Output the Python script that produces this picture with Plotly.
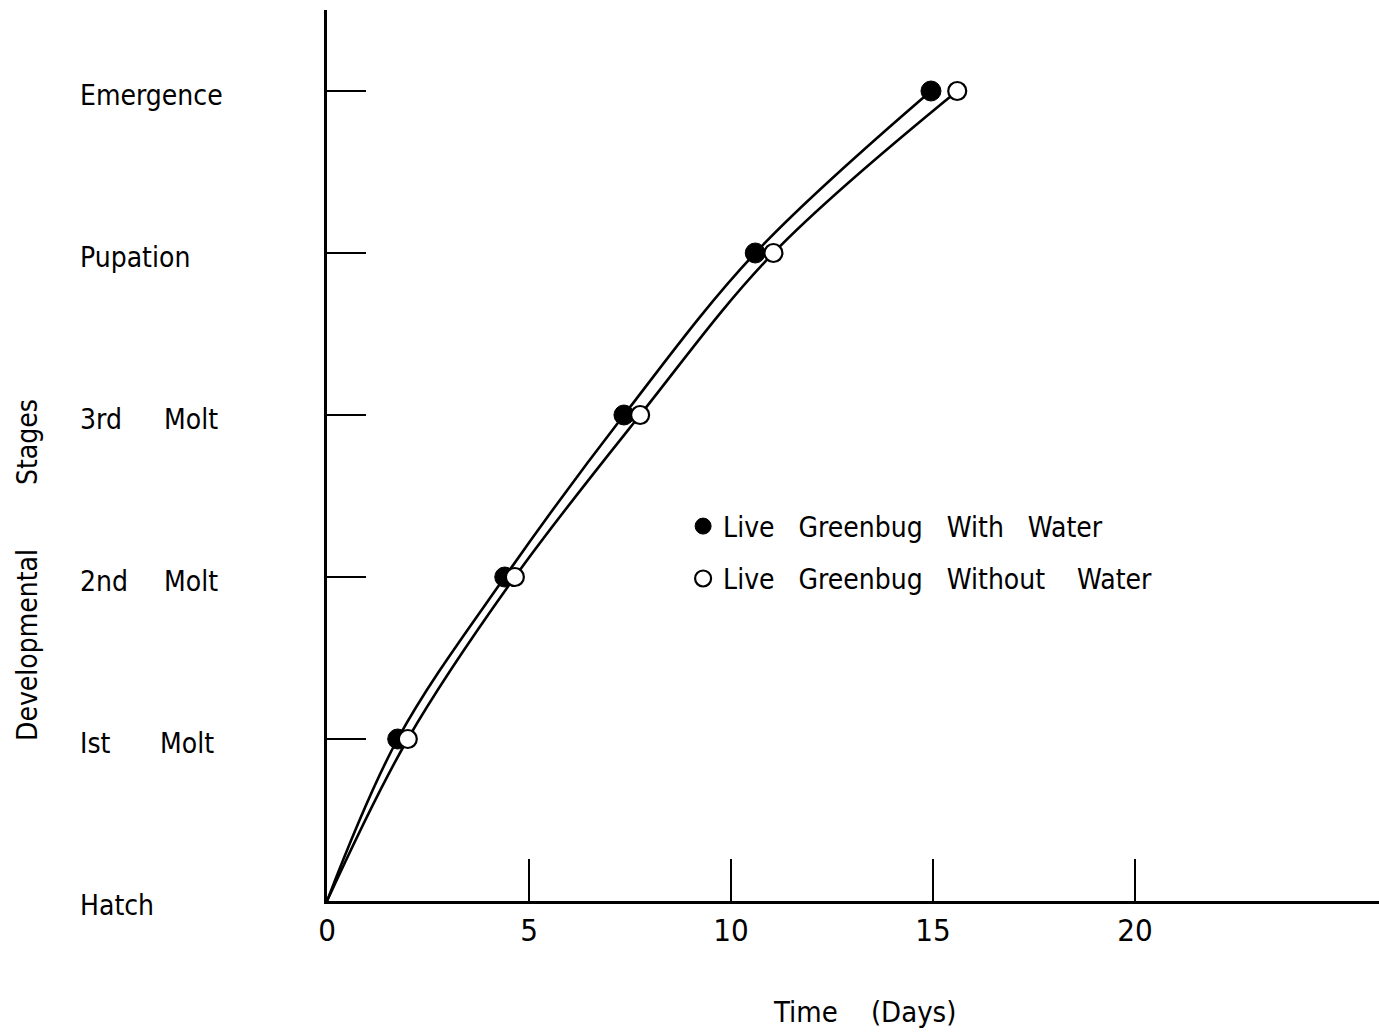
import plotly.graph_objects as go

# Developmental stages (index 0 = hatch) and the days at which each was reached
stage_labels = ["Hatch", "Ist Molt", "2nd Molt", "3rd Molt", "Pupation", "Emergence"]
stage_idx = [1, 2, 3, 4, 5]
days_with_water = [1.75, 4.4, 7.35, 10.6, 14.95]
days_without_water = [2.0, 4.65, 7.75, 11.05, 15.6]
x_ticks = [0, 5, 10, 15, 20]

FONT = "DejaVu Sans Condensed, Liberation Sans Narrow, Arial Narrow, sans-serif"
NB = "\u00a0"

fig = go.Figure()

# smooth growth curves starting at hatch (day 0)
for days in (days_with_water, days_without_water):
    fig.add_trace(go.Scatter(
        x=[0] + days, y=[0] + stage_idx, mode="lines",
        line=dict(color="black", width=2.6, shape="spline", smoothing=1.0),
        showlegend=False, hoverinfo="skip"))

fig.add_trace(go.Scatter(
    x=days_with_water, y=stage_idx, mode="markers",
    name=f"Live{NB*3}Greenbug{NB*3}With{NB*3}Water", legendgroup="a",
    marker=dict(symbol="circle", size=20, color="black",
                line=dict(color="black", width=1))))
fig.add_trace(go.Scatter(
    x=days_without_water, y=stage_idx, mode="markers",
    name=f"Live{NB*3}Greenbug{NB*3}Without{NB*4}Water", legendgroup="b",
    marker=dict(symbol="circle", size=18, color="white",
                line=dict(color="black", width=2.2))))

annotations = []
# stage labels on the left, words set in two columns
for i, lab in enumerate(stage_labels):
    parts = lab.split(" ")
    annotations.append(dict(x=-0.237, xref="paper", y=i, yref="y", text=parts[0],
                            showarrow=False, xanchor="left", yanchor="middle",
                            yshift=-4, font=dict(family=FONT, size=28, color="black")))
    if len(parts) > 1:
        x2 = -0.1565 if i > 1 else -0.1605
        annotations.append(dict(x=x2, xref="paper", y=i, yref="y", text=parts[1],
                                showarrow=False, xanchor="left", yanchor="middle",
                                yshift=-4, font=dict(family=FONT, size=28, color="black")))

annotations.append(dict(x=-0.2842, xref="paper", y=0.3715, yref="paper",
                        text=f"Developmental{NB*8}Stages", textangle=-90,
                        showarrow=False, xanchor="center", yanchor="middle",
                        font=dict(family=FONT, size=28, color="black")))
annotations.append(dict(x=0.511, xref="paper", y=-0.1246, yref="paper",
                        text=f"Time{NB*4}(Days)",
                        showarrow=False, xanchor="center", yanchor="middle",
                        font=dict(family=FONT, size=29, color="black")))

fig.update_layout(
    width=1379, height=1036,
    margin=dict(l=327, r=0, t=10, b=135),
    paper_bgcolor="white", plot_bgcolor="white",
    font=dict(family=FONT, size=28, color="black"),
    showlegend=True,
    legend=dict(x=0.3385, xanchor="left", y=0.4485, yanchor="top",
                font=dict(family=FONT, size=28, color="black"),
                bgcolor="rgba(0,0,0,0)", tracegroupgap=13, itemsizing="trace"),
    annotations=annotations,
    xaxis=dict(range=[0, 26.04], tickvals=x_ticks, ticktext=[str(v) for v in x_ticks],
               ticks="inside", ticklen=42, tickwidth=2, tickcolor="black",
               showline=True, linecolor="black", linewidth=2.6,
               showgrid=False, zeroline=False,
               tickfont=dict(family=FONT, size=31, color="black")),
    yaxis=dict(range=[0, 5.5], tickvals=stage_idx, showticklabels=False,
               ticks="inside", ticklen=39, tickwidth=2, tickcolor="black",
               showline=True, linecolor="black", linewidth=2.6,
               showgrid=False, zeroline=False),
)

fig.write_html("out.html")
